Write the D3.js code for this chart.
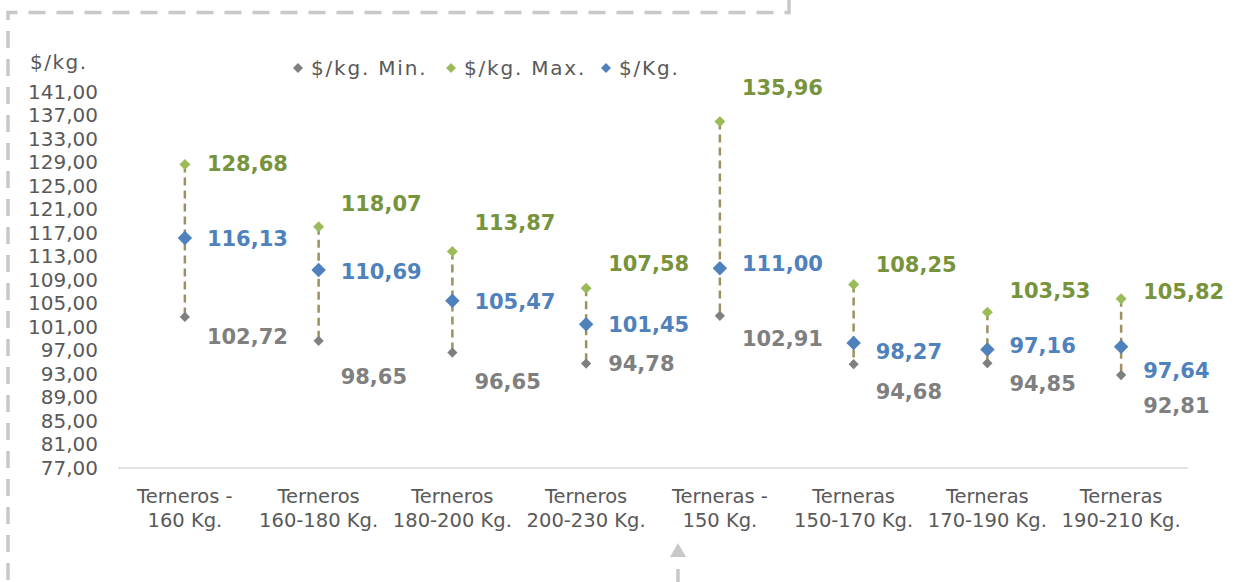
<!DOCTYPE html>
<html>
<head>
<meta charset="utf-8">
<script src="https://cdn.jsdelivr.net/npm/d3@7"></script>
<style>
  body { margin: 0; background: #fff; }
  svg { display: block; font-family: "DejaVu Sans", sans-serif; }
</style>
</head>
<body>
<svg id="chart" width="1236" height="582"></svg>
<script>
// categories and the three series
const categories = [
  ["Terneros -", "160 Kg."],
  ["Terneros", "160-180 Kg."],
  ["Terneros", "180-200 Kg."],
  ["Terneros", "200-230 Kg."],
  ["Terneras -", "150 Kg."],
  ["Terneras", "150-170 Kg."],
  ["Terneras", "170-190 Kg."],
  ["Terneras", "190-210 Kg."]
];
const minValues = [102.72, 98.65, 96.65, 94.78, 102.91, 94.68, 94.85, 92.81];
const maxValues = [128.68, 118.07, 113.87, 107.58, 135.96, 108.25, 103.53, 105.82];
const avgValues = [116.13, 110.69, 105.47, 101.45, 111.00, 98.27, 97.16, 97.64];
const yTicks = d3.range(77, 142, 4);
const legendNames = ["$/kg. Min.", "$/kg. Max.", "$/Kg."];

// label nudges (px) so the labels don't overlap, like in the excel chart
const maxNudge = [-1, -23, -29, -25, -34, -20, -22, -7];
const avgNudge = [0, 1, 1, 0, -5, 8, -4, 24];
const minNudge = [20, 36, 29, 0, 23, 27, 20, 30];

const colMin = "#7f7f7f", colMax = "#9bbb59", colAvg = "#4f81bd";
const colMaxText = "#77933c";
const fmt = v => d3.format(".2f")(v).replace(".", ",");

const svg = d3.select("#chart");

// dashed frame pieces around the chart
const frame = svg.append("g")
  .attr("fill", "none")
  .attr("stroke", "#c8c8c8")
  .attr("stroke-width", 3.5)
  .attr("stroke-dasharray", "17,11");
frame.append("path").attr("d", "M789,0 L789,12.5 L8,12.5 L8,582");
frame.append("path").attr("d", "M678,569 L678,582").attr("stroke-dasharray", null);
svg.append("path")
  .attr("d", "M670,557 L678,543 L686,557 Z")
  .attr("fill", "#c8c8c8");

// scales
const x = d3.scaleBand()
  .domain(d3.range(categories.length))
  .range([118, 1188]);
const y = d3.scaleLinear()
  .domain([77, 141])
  .range([468, 92]);
const cx = i => x(i) + x.bandwidth() / 2;

// y axis
const yAxis = svg.append("g")
  .attr("transform", "translate(98,0)")
  .call(d3.axisLeft(y).tickValues(yTicks).tickFormat(fmt).tickSize(0).tickPadding(0));
yAxis.select(".domain").remove();
yAxis.selectAll("text")
  .attr("font-size", 20)
  .attr("font-family", "DejaVu Sans, sans-serif")
  .attr("fill", "#595959");

svg.append("text")
  .attr("x", 30).attr("y", 69)
  .attr("font-size", 20)
  .attr("letter-spacing", 1.5)
  .attr("fill", "#595959")
  .text("$/kg.");

// x axis line
svg.append("line")
  .attr("x1", x.range()[0]).attr("x2", x.range()[1])
  .attr("y1", y(77)).attr("y2", y(77))
  .attr("stroke", "#d9d9d9").attr("stroke-width", 1.5);

// category labels, two lines each
const catG = svg.append("g").selectAll("text")
  .data(categories)
  .join("text")
  .attr("text-anchor", "middle")
  .attr("font-size", 19.5)
  .attr("fill", "#595959");
catG.append("tspan")
  .attr("x", (d, i) => cx(i)).attr("y", 503)
  .text(d => d[0]);
catG.append("tspan")
  .attr("x", (d, i) => cx(i)).attr("y", 527)
  .text(d => d[1]);

// dashed drop lines max -> min
svg.append("g").selectAll("line")
  .data(categories)
  .join("line")
  .attr("x1", (d, i) => cx(i)).attr("x2", (d, i) => cx(i))
  .attr("y1", (d, i) => y(maxValues[i]))
  .attr("y2", (d, i) => y(minValues[i]))
  .attr("stroke", "#9e9060")
  .attr("stroke-width", 2.5)
  .attr("stroke-dasharray", "8,5");

// markers (excel diamonds = rotated squares)
function markers(values, color, size) {
  svg.append("g").selectAll("path")
    .data(values)
    .join("path")
    .attr("d", d3.symbol(d3.symbolSquare, size))
    .attr("transform", (d, i) => `translate(${cx(i)},${y(d)}) rotate(45)`)
    .attr("fill", color);
}
markers(minValues, colMin, 52);
markers(maxValues, colMax, 60);
markers(avgValues, colAvg, 105);

// value labels
function labels(values, nudge, color) {
  svg.append("g").selectAll("text")
    .data(values)
    .join("text")
    .attr("x", (d, i) => cx(i) + 22)
    .attr("y", (d, i) => y(d) + nudge[i])
    .attr("dy", "0.36em")
    .attr("font-size", 21)
    .attr("font-weight", "bold")
    .attr("fill", color)
    .text(d => fmt(d));
}
labels(maxValues, maxNudge, colMaxText);
labels(avgValues, avgNudge, colAvg);
labels(minValues, minNudge, colMin);

// legend
const legendColors = [colMin, colMax, colAvg];
const legendX = [298, 451, 606];
const leg = svg.append("g").selectAll("g")
  .data(legendNames)
  .join("g")
  .attr("transform", (d, i) => `translate(${legendX[i]},68)`);
leg.append("path")
  .attr("d", d3.symbol(d3.symbolSquare, 50))
  .attr("transform", "rotate(45)")
  .attr("fill", (d, i) => legendColors[i]);
leg.append("text")
  .attr("x", 13).attr("dy", "0.36em")
  .attr("font-size", 20)
  .attr("letter-spacing", 1.8)
  .attr("fill", "#595959")
  .text(d => d);
</script>
</body>
</html>
